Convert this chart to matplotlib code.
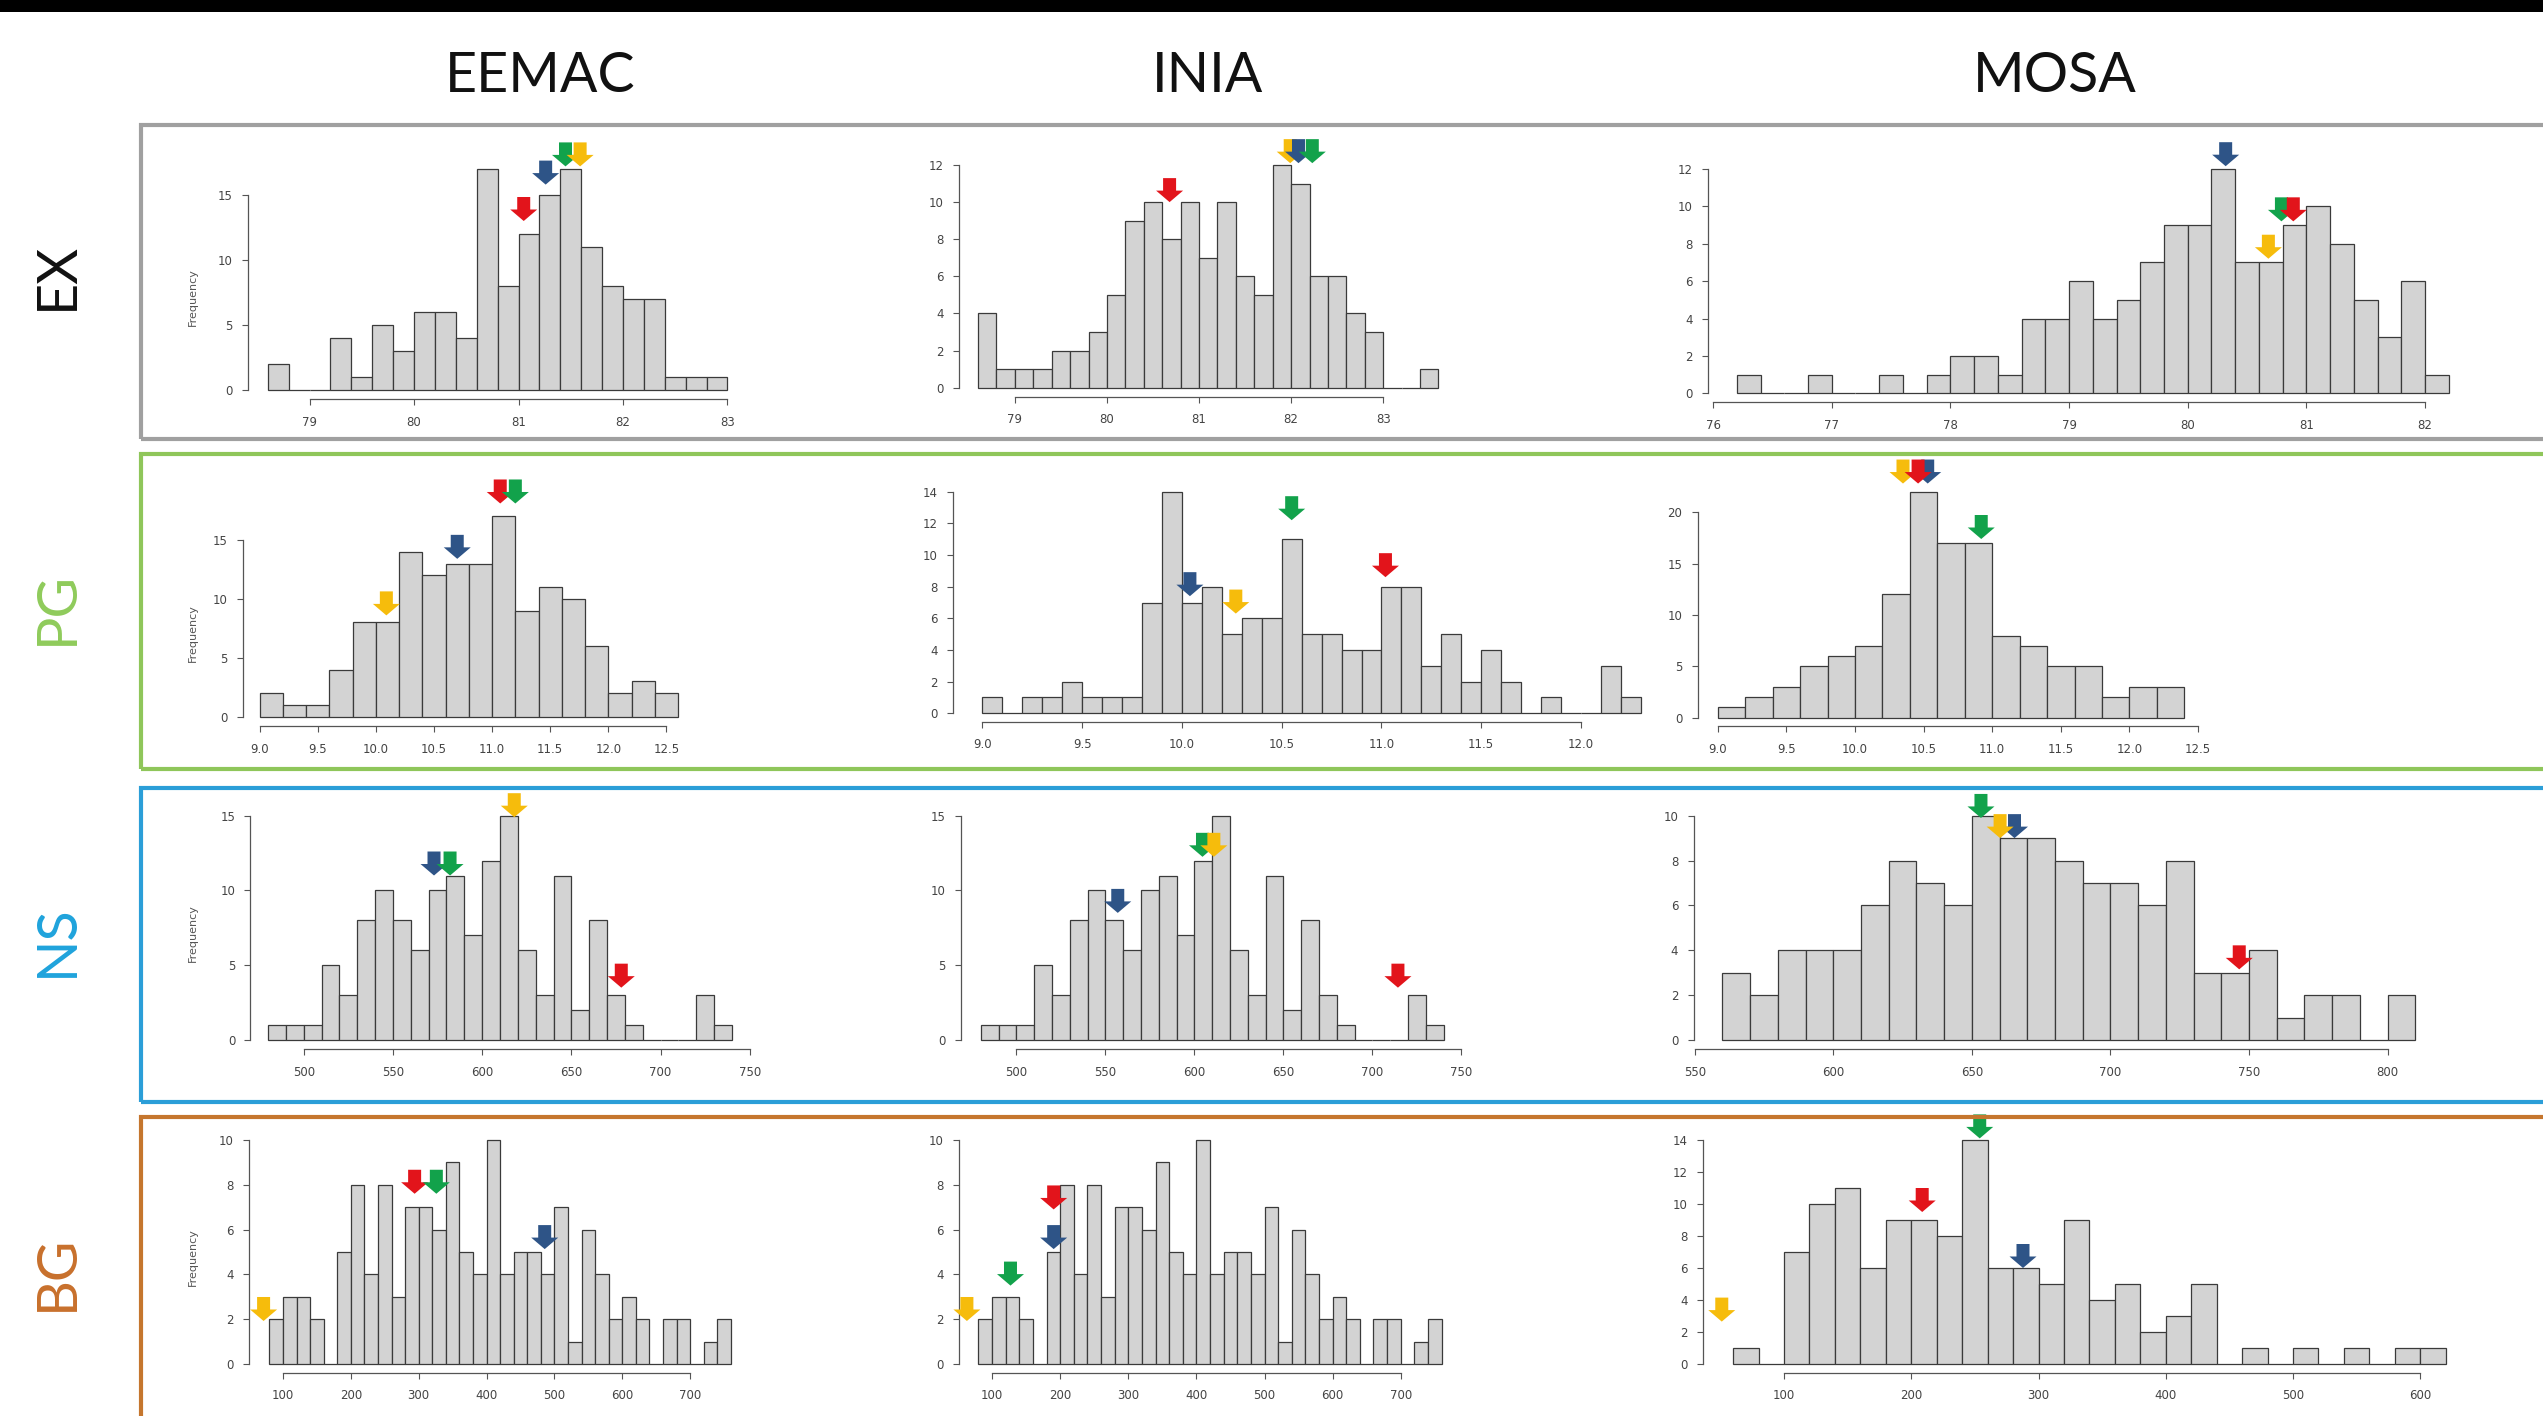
import numpy as np
import matplotlib.pyplot as plt
from matplotlib.patches import Rectangle, Polygon
from matplotlib.ticker import FormatStrFormatter
from matplotlib.transforms import ScaledTranslation

W, H = 2543, 1416

columns = ['EEMAC', 'INIA', 'MOSA']
rows = ['EX', 'PG', 'NS', 'BG']
row_colors = ['#111111', '#8fcb5b', '#1fa3dc', '#c8702c']
frame_colors = ['#a0a0a0', '#8fc65a', '#2b9ed8', '#c5762e']

# histogram counts: first bin start, bin width, counts per bin
ex_eemac_start, ex_eemac_width = 78.6, 0.2
ex_eemac_counts = [2, 0, 0, 4, 1, 5, 3, 6, 6, 4, 17, 8, 12, 15, 17, 11, 8, 7, 7, 1, 1, 1]
ex_inia_start, ex_inia_width = 78.6, 0.2
ex_inia_counts = [4, 1, 1, 1, 2, 2, 3, 5, 9, 10, 8, 10, 7, 10, 6, 5, 12, 11, 6, 6, 4, 3, 0, 0, 1]
ex_mosa_start, ex_mosa_width = 76.2, 0.2
ex_mosa_counts = [1, 0, 0, 1, 0, 0, 1, 0, 1, 2, 2, 1, 4, 4, 6, 4, 5, 7, 9, 9, 12, 7, 7, 9, 10, 8, 5, 3, 6, 1]

pg_eemac_start, pg_eemac_width = 9.0, 0.2
pg_eemac_counts = [2, 1, 1, 4, 8, 8, 14, 12, 13, 13, 17, 9, 11, 10, 6, 2, 3, 2]
pg_inia_start, pg_inia_width = 9.0, 0.1
pg_inia_counts = [1, 0, 1, 1, 2, 1, 1, 1, 7, 14, 7, 8, 5, 6, 6, 11, 5, 5, 4, 4, 8, 8, 3, 5, 2, 4, 2, 0, 1, 0, 0, 3, 1]
pg_mosa_start, pg_mosa_width = 9.0, 0.2
pg_mosa_counts = [1, 2, 3, 5, 6, 7, 12, 22, 17, 17, 8, 7, 5, 5, 2, 3, 3]

ns_eemac_start, ns_eemac_width = 480, 10
ns_eemac_counts = [1, 1, 1, 5, 3, 8, 10, 8, 6, 10, 11, 7, 12, 15, 6, 3, 11, 2, 8, 3, 1, 0, 0, 0, 3, 1]
ns_inia_start, ns_inia_width = 480, 10
ns_inia_counts = [1, 1, 1, 5, 3, 8, 10, 8, 6, 10, 11, 7, 12, 15, 6, 3, 11, 2, 8, 3, 1, 0, 0, 0, 3, 1]
ns_mosa_start, ns_mosa_width = 560, 10
ns_mosa_counts = [3, 2, 4, 4, 4, 6, 8, 7, 6, 10, 9, 9, 8, 7, 7, 6, 8, 3, 3, 4, 1, 2, 2, 0, 2]

bg_eemac_start, bg_eemac_width = 80, 20
bg_eemac_counts = [2, 3, 3, 2, 0, 5, 8, 4, 8, 3, 7, 7, 6, 9, 5, 4, 10, 4, 5, 5, 4, 7, 1, 6, 4, 2, 3, 2, 0, 2, 2, 0, 1, 2]
bg_inia_start, bg_inia_width = 80, 20
bg_inia_counts = [2, 3, 3, 2, 0, 5, 8, 4, 8, 3, 7, 7, 6, 9, 5, 4, 10, 4, 5, 5, 4, 7, 1, 6, 4, 2, 3, 2, 0, 2, 2, 0, 1, 2]
bg_mosa_start, bg_mosa_width = 60, 20
bg_mosa_counts = [1, 0, 7, 10, 11, 6, 9, 9, 8, 14, 6, 6, 5, 9, 4, 5, 2, 3, 5, 0, 1, 0, 1, 0, 1, 0, 1, 1]

# marker arrows (colour, x, tip height), in drawing order
ex_eemac_marks = [('red', 81.05, 13.0), ('blue', 81.26, 15.8), ('green', 81.45, 17.2), ('yellow', 81.59, 17.2)]
ex_inia_marks = [('red', 80.68, 10.0), ('yellow', 81.99, 12.1), ('blue', 82.08, 12.1), ('green', 82.23, 12.1)]
ex_mosa_marks = [('yellow', 80.68, 7.2), ('green', 80.79, 9.2), ('red', 80.89, 9.2), ('blue', 80.32, 12.15)]
pg_eemac_marks = [('yellow', 10.09, 8.6), ('blue', 10.70, 13.4), ('red', 11.07, 18.1), ('green', 11.20, 18.1)]
pg_inia_marks = [('blue', 10.04, 7.4), ('yellow', 10.27, 6.3), ('green', 10.55, 12.2), ('red', 11.02, 8.6)]
pg_mosa_marks = [('blue', 10.53, 22.8), ('yellow', 10.35, 22.8), ('red', 10.46, 22.8), ('green', 10.92, 17.4)]
ns_eemac_marks = [('blue', 573, 11.0), ('green', 582, 11.0), ('yellow', 618, 14.9), ('red', 678, 3.5)]
ns_inia_marks = [('blue', 557, 8.5), ('green', 604.6, 12.25), ('yellow', 611, 12.25), ('red', 714.4, 3.5)]
ns_mosa_marks = [('green', 653.3, 9.9), ('blue', 665.4, 9.0), ('yellow', 660.2, 9.0), ('red', 746.5, 3.15)]
bg_eemac_marks = [('yellow', 71.4, 1.92), ('red', 294, 7.6), ('green', 326, 7.6), ('blue', 485.7, 5.13)]
bg_inia_marks = [('yellow', 63, 1.92), ('green', 127, 3.5), ('red', 190.4, 6.9), ('blue', 190.4, 5.13)]
bg_mosa_marks = [('yellow', 51.1, 2.65), ('red', 208.6, 9.5), ('green', 253.8, 14.1), ('blue', 287.8, 6.0)]

# axis ticks: (first x tick, last x tick, x step, top y tick, y step)
ex_eemac_ticks = (79, 83, 1, 15, 5)
ex_inia_ticks = (79, 83, 1, 12, 2)
ex_mosa_ticks = (76, 82, 1, 12, 2)
pg_eemac_ticks = (9.0, 12.5, 0.5, 15, 5)
pg_inia_ticks = (9.0, 12.0, 0.5, 14, 2)
pg_mosa_ticks = (9.0, 12.5, 0.5, 20, 5)
ns_eemac_ticks = (500, 750, 50, 15, 5)
ns_inia_ticks = (500, 750, 50, 15, 5)
ns_mosa_ticks = (550, 800, 50, 10, 2)
bg_eemac_ticks = (100, 700, 100, 10, 2)
bg_inia_ticks = (100, 700, 100, 10, 2)
bg_mosa_ticks = (100, 600, 100, 14, 2)

panels = [
    [(ex_eemac_start, ex_eemac_width, ex_eemac_counts, ex_eemac_marks, ex_eemac_ticks),
     (ex_inia_start, ex_inia_width, ex_inia_counts, ex_inia_marks, ex_inia_ticks),
     (ex_mosa_start, ex_mosa_width, ex_mosa_counts, ex_mosa_marks, ex_mosa_ticks)],
    [(pg_eemac_start, pg_eemac_width, pg_eemac_counts, pg_eemac_marks, pg_eemac_ticks),
     (pg_inia_start, pg_inia_width, pg_inia_counts, pg_inia_marks, pg_inia_ticks),
     (pg_mosa_start, pg_mosa_width, pg_mosa_counts, pg_mosa_marks, pg_mosa_ticks)],
    [(ns_eemac_start, ns_eemac_width, ns_eemac_counts, ns_eemac_marks, ns_eemac_ticks),
     (ns_inia_start, ns_inia_width, ns_inia_counts, ns_inia_marks, ns_inia_ticks),
     (ns_mosa_start, ns_mosa_width, ns_mosa_counts, ns_mosa_marks, ns_mosa_ticks)],
    [(bg_eemac_start, bg_eemac_width, bg_eemac_counts, bg_eemac_marks, bg_eemac_ticks),
     (bg_inia_start, bg_inia_width, bg_inia_counts, bg_inia_marks, bg_inia_ticks),
     (bg_mosa_start, bg_mosa_width, bg_mosa_counts, bg_mosa_marks, bg_mosa_ticks)],
]

# pixel layout of each panel: x px of first/last x tick, y px of 0 and top y tick,
# x px of the y axis line, y px of the x axis line
layout = [
    [(309.6, 727.4, 390.0, 195.0, 247.6, 399.3),
     (1014.9, 1383.2, 387.7, 165.0, 959.1, 396.7),
     (1713.1, 2425.0, 393.3, 169.0, 1708.0, 402.3)],
    [(259.7, 666.4, 716.7, 540.0, 242.8, 726.0),
     (982.4, 1581.0, 713.3, 491.7, 953.3, 721.7),
     (1717.7, 2198.1, 717.7, 512.3, 1697.6, 726.0)],
    [(303.8, 749.7, 1040.0, 815.7, 250.5, 1049.0),
     (1016.3, 1461.3, 1040.0, 815.7, 960.6, 1049.0),
     (1694.7, 2387.5, 1040.0, 815.7, 1693.6, 1049.0)],
    [(283.0, 690.1, 1364.0, 1140.0, 249.1, 1372.7),
     (992.1, 1400.7, 1364.0, 1140.0, 959.1, 1372.7),
     (1784.0, 2420.3, 1364.0, 1140.0, 1703.3, 1372.7)],
]
frame_tops = [125, 454, 788, 1117]
frame_bottoms = [439, 769, 1102, 1430]
row_label_y = [276, 608, 941, 1273]
title_x = [540, 1208, 2055]

arrow_colors = {'red': '#e2141b', 'blue': '#2e5487', 'green': '#12a24b', 'yellow': '#f6bc0c'}
# arrow outline in pixels, tip at origin
arrow_shape = np.array([(0, 0), (-13.5, 11.5), (-6.5, 11.5), (-6.5, 24), (6.5, 24), (6.5, 11.5), (13.5, 11.5)]) / 100.0

fig = plt.figure(figsize=(W / 100, H / 100), dpi=100)
fig.patch.set_facecolor('white')

# black strip along the top
fig.add_artist(Rectangle((0, 1 - 12 / H), 1, 12 / H, transform=fig.transFigure,
                         facecolor='black', edgecolor='none'))

for r in range(4):
    top, bot = frame_tops[r], frame_bottoms[r]
    fig.add_artist(Rectangle((141 / W, 1 - bot / H), (2600 - 141) / W, (bot - top) / H,
                             transform=fig.transFigure, fill=False,
                             edgecolor=frame_colors[r], linewidth=3.0))
    fig.text(57 / W, 1 - row_label_y[r] / H, rows[r], rotation=90, ha='center', va='center',
             fontsize=40, family='Lato', color=row_colors[r])

for c in range(3):
    fig.text(title_x[c] / W, 1 - 76 / H, columns[c], ha='center', va='center',
             fontsize=40, family='Lato', color='#111111')

for r in range(4):
    for c in range(3):
        start, width, counts, marks, ticks = panels[r][c]
        px0, px1, py0, py1, left_px, bottom_px = layout[r][c]
        xt0, xt1, xstep, ytop, ystep = ticks
        sx = (px1 - px0) / (xt1 - xt0)
        sy = (py0 - py1) / ytop
        right_px = px1 + 120
        top_px = frame_tops[r] + 6
        ax = fig.add_axes([left_px / W, 1 - bottom_px / H,
                           (right_px - left_px) / W, (bottom_px - top_px) / H])
        ax.set_xlim(xt0 + (left_px - px0) / sx, xt0 + (right_px - px0) / sx)
        ax.set_ylim(-(bottom_px - py0) / sy, (py0 - top_px) / sy)
        ax.patch.set_alpha(0)

        edges = start + width * np.arange(len(counts))
        ax.bar(edges, counts, width=width, align='edge', color='#d3d3d3',
               edgecolor='#3a3a3a', linewidth=0.9)

        for s in ['top', 'right']:
            ax.spines[s].set_visible(False)
        ax.spines['left'].set_bounds(0, ytop)
        ax.spines['bottom'].set_bounds(xt0, xt1)
        for s in ['left', 'bottom']:
            ax.spines[s].set_color('#555555')
            ax.spines[s].set_linewidth(0.9)
        ax.set_xticks(np.arange(xt0, xt1 + xstep / 2, xstep))
        ax.set_yticks(np.arange(0, ytop + 1, ystep))
        ax.xaxis.set_major_formatter(FormatStrFormatter('%.1f' if r == 1 else '%d'))
        ax.tick_params(axis='both', direction='out', width=0.8,
                       colors='#555555', labelcolor='#444444', labelsize=8.5)
        ax.tick_params(axis='x', length=4, pad=8)
        ax.tick_params(axis='y', length=4.5, pad=6.5)
        if c == 0:
            fig.text(193 / W, 1 - ((py0 + py1) / 2 + 5) / H, 'Frequency', rotation=90,
                     ha='center', va='center', fontsize=8, color='#555555')

        for name, x, y in marks:
            trans = fig.dpi_scale_trans + ScaledTranslation(x, y, ax.transData)
            ax.add_patch(Polygon(arrow_shape, closed=True, transform=trans,
                                 facecolor=arrow_colors[name], edgecolor='none',
                                 clip_on=False, zorder=5))

fig.savefig('out.png', dpi=100)
